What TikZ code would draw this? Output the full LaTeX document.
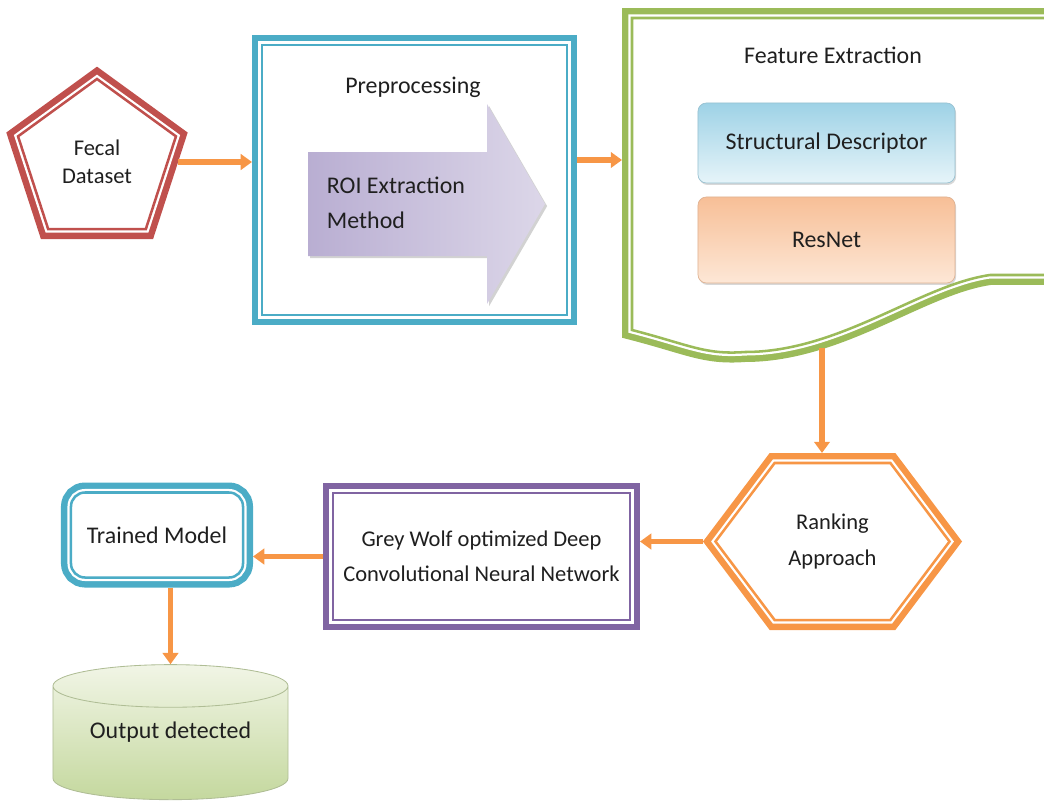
\documentclass[tikz,border=0pt]{standalone}
\usepackage{fontspec}
\setmainfont{Carlito}
\usetikzlibrary{arrows.meta,positioning,shapes,fit,calc,shadows}
\definecolor{red600}{HTML}{C0504D}
\definecolor{aqua500}{HTML}{4BACC6}
\definecolor{green500}{HTML}{9BBB59}
\definecolor{orange400}{HTML}{F79646}
\definecolor{purple500}{HTML}{8064A2}
\definecolor{lilac300}{HTML}{B9AED2}
\definecolor{sky200}{HTML}{9ED2E6}
\definecolor{sky50}{HTML}{E6F4F9}
\definecolor{peach300}{HTML}{F7BF97}
\definecolor{peach100}{HTML}{FDE7D6}
\definecolor{lime100}{HTML}{F1F5E6}
\definecolor{lime300}{HTML}{C4D89E}
\definecolor{ink900}{HTML}{1F1F1F}

\begin{document}
\begin{tikzpicture}[x=0.025cm, y=-0.025cm]
  % Styles
  \tikzset{
    txt/.style={font=\fontsize{17}{25}\selectfont, text=ink900, align=center},
    dbl/.style={txt, fill=white, draw=#1, line width=1.8pt, outer sep=7.1pt, inner sep=0pt,
      preaction={draw=#1, line width=14.2pt}, preaction={draw=white, line width=5pt}},
    subbox/.style={txt, rounded corners=6pt, inner sep=0pt, minimum width=6.425cm,
      drop shadow={opacity=0.3, shadow xshift=0.8pt, shadow yshift=-1.4pt}},
    roiarrow/.style={left color=lilac300, right color=lilac300!50,
      drop shadow={opacity=0.35, shadow xshift=1.5pt, shadow yshift=-1.5pt}},
    flow/.style={-{Triangle[length=8pt,width=11pt]}, line width=3.6pt, draw=orange400},
  }
  \useasboundingbox (0,0) rectangle (1044,802);
  \clip (0,0) rectangle (1044,802);

  % Row 1: input, preprocessing, features
  \node[dbl=red600, regular polygon, regular polygon sides=5, minimum size=4.15cm,
    font=\fontsize{16}{20}\selectfont] (fecal) at (97,162) {Fecal\\Dataset};

  \node[dbl=aqua500, minimum width=7.625cm, minimum height=6.75cm] (prep) at (414.5,180) {};
  \node[txt] (preptitle) at (413,87) {Preprocessing};
  \path[roiarrow] (308,152) -- (487,152) -- (487,104) -- (545,204) -- (487,304) -- (487,256) -- (308,256) -- cycle;
  \node[txt, align=left, anchor=west] (roi) at (322,203) {ROI Extraction\\Method};

  \path[dbl=green500] (632,18) -- (632,330) .. controls (690,345) and (705,355) .. (745,352)
    .. controls (840,352) and (920,285) .. (990,275) -- (1070,275) -- (1070,18) -- cycle;
  \coordinate (featin) at (622,160);
  \coordinate (featout) at (822,348);
  \node[txt] (feattitle) at (833,55) {Feature Extraction};
  \node[subbox, top color=sky200, bottom color=sky50, draw=sky200!80!gray, line width=0.5pt,
    minimum height=2cm] (struct) at (826.5,143) {Structural Descriptor};
  \node[subbox, top color=peach300, bottom color=peach100, draw=peach300!80!gray, line width=0.5pt,
    minimum height=2.15cm] (resnet) at (826.5,240) {ResNet};

  % Row 2: ranking, classifier, model
  \node[dbl=orange400, signal, signal to=west and east, signal pointer angle=106,
    minimum width=5.85cm, minimum height=3.925cm, font=\fontsize{16}{25}\selectfont] (rank) at (832.5,541.5) {Ranking\\Approach};
  \node[dbl=purple500, minimum width=7.425cm, minimum height=3.175cm,
    font=\fontsize{16}{25}\selectfont] (gwo) at (481.5,556.5) {Grey Wolf optimized Deep\\Convolutional Neural Network};
  \node[dbl=aqua500, rounded corners=10pt, minimum width=4.3cm, minimum height=2.125cm] (model) at (157,535) {Trained Model};

  % Row 3: output
  \node[txt, cylinder, shape border rotate=90, aspect=0.25, minimum width=5.875cm, minimum height=3.375cm,
    text depth=22pt, draw=lime300!70!gray, line width=0.6pt, top color=lime100, bottom color=lime300] (output) at (170.5,746) {Output detected};

  % Edges
  \draw[flow] (fecal.east) -- (fecal.east -| prep.west);
  \draw[flow] (prep.east |- featin) -- (featin);
  \draw[flow] (featout) -- (featout |- rank.north);
  \draw[flow] (rank.west) -- (rank.west -| gwo.east);
  \draw[flow] (gwo.west) -- (gwo.west -| model.east);
  \draw[flow] (model.south -| output.north) -- (output.north);
\end{tikzpicture}
\end{document}
